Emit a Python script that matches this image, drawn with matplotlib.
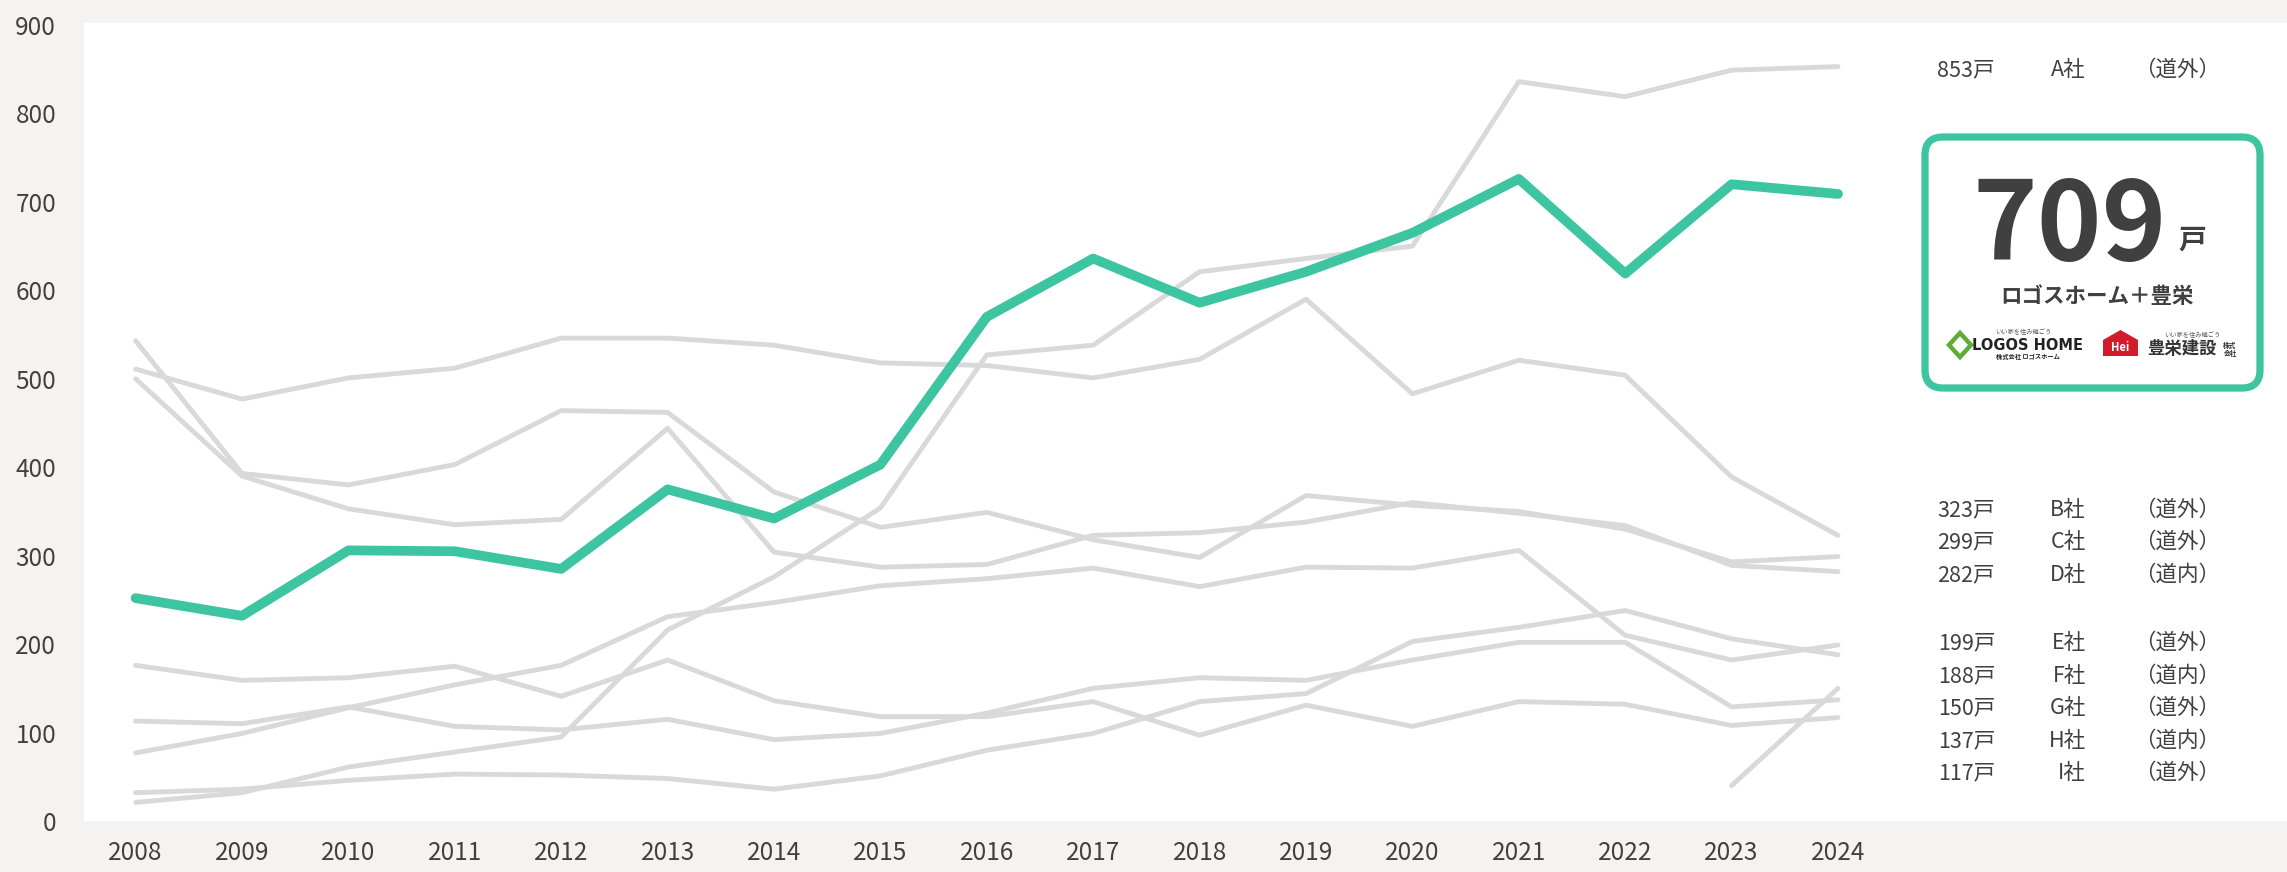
import numpy as np
import matplotlib.pyplot as plt
from matplotlib.patches import FancyBboxPatch, Polygon

# 日本語フォント
plt.rcParams['font.family'] = ['Noto Sans CJK JP', 'DejaVu Sans']

W, H = 2287, 872          # 出力サイズ (px)
BG = '#f4f3f1'
GREEN = '#3dc4a1'
GRAY = '#d9d9d9'
TEXT = '#404040'

# ---- データ ----
years = list(range(2008, 2025))

main_name = "ロゴスホーム＋豊栄"
main_values = [252, 232, 306, 305, 285, 375, 342, 403, 570, 636, 586, 621, 665, 726, 619, 720, 709]

companies = ["A社", "B社", "C社", "D社", "E社", "F社", "G社", "H社", "I社"]
regions = ["道外", "道外", "道外", "道内", "道外", "道内", "道外", "道内", "道外"]

a_values = [21, 32, 61, 78, 95, 216, 276, 354, 527, 538, 621, 636, 650, 836, 819, 849, 853]
b_values = [511, 477, 501, 512, 546, 546, 538, 518, 515, 501, 522, 590, 483, 521, 504, 389, 323]
c_values = [543, 393, 380, 403, 464, 462, 372, 332, 349, 318, 298, 368, 357, 350, 330, 293, 299]
d_values = [500, 390, 353, 335, 341, 444, 304, 287, 290, 323, 326, 338, 360, 348, 334, 289, 282]
e_values = [77, 99, 128, 154, 176, 231, 247, 266, 274, 286, 265, 287, 286, 306, 210, 182, 199]
f_values = [32, 36, 46, 53, 52, 48, 36, 51, 80, 99, 135, 144, 203, 219, 238, 206, 188]
g_values = [np.nan, np.nan, np.nan, np.nan, np.nan, np.nan, np.nan, np.nan, np.nan,
            np.nan, np.nan, np.nan, np.nan, np.nan, np.nan, 40, 150]
h_values = [113, 110, 129, 107, 103, 115, 92, 99, 122, 150, 162, 159, 182, 202, 202, 129, 137]
i_values = [176, 159, 162, 175, 141, 182, 136, 118, 118, 135, 97, 131, 107, 135, 132, 108, 117]

others = [a_values, b_values, c_values, d_values, e_values,
          f_values, g_values, h_values, i_values]

# 右側ラベルの行位置 (px, 上から)
label_rows = [70, 510, 542, 575, 643, 676, 708, 741, 773]


def fx(px):
    return px / W


def fy(py):
    return 1 - py / H


fig = plt.figure(figsize=(W / 100, H / 100), dpi=100, facecolor=BG)

# 白いパネル = プロット領域
ax = fig.add_axes([fx(84), fy(821), fx(W) - fx(84), fy(23) - fy(821)])
ax.set_facecolor('white')

for vals in others:
    ax.plot(years, vals, color=GRAY, lw=3.5, solid_capstyle='round',
            solid_joinstyle='round', zorder=2)
ax.plot(years, main_values, color=GREEN, lw=7, solid_capstyle='round',
        solid_joinstyle='round', zorder=3)

ax.set_xlim(2007.515, 2028.22)
ax.set_ylim(0, 902.3)
ax.set_yticks(range(0, 901, 100))
ax.set_xticks(years)
ax.tick_params(axis='both', length=0, labelsize=17.5, labelcolor=TEXT)
ax.tick_params(axis='y', pad=20)
ax.tick_params(axis='x', pad=14)
for s in ax.spines.values():
    s.set_visible(False)

# ---- 右側の注釈 (px 座標のオーバーレイ) ----
ov = fig.add_axes([0, 0, 1, 1], facecolor='none')
ov.set_xlim(0, W)
ov.set_ylim(H, 0)
ov.axis('off')

for vals, comp, reg, row in zip(others, companies, regions, label_rows):
    ov.text(1995, row, f"{int(vals[-1])}戸", ha='right', va='center',
            fontsize=15.5, color=TEXT)
    ov.text(2086, row, comp, ha='right', va='center', fontsize=15.5, color=TEXT)
    ov.text(2177, row, f"（{reg}）", ha='center', va='center', fontsize=15.5, color=TEXT)

# 強調ボックス
box = FancyBboxPatch((1925, 137), 335, 251, boxstyle="round,pad=0,rounding_size=18",
                     facecolor='white', edgecolor=GREEN, linewidth=5.2, zorder=5)
ov.add_patch(box)
ov.text(2070, 260, str(main_values[-1]), ha='center', va='baseline',
        fontsize=79, fontweight='bold', color=TEXT, zorder=6)
ov.text(2192, 241, "戸", ha='center', va='center', fontsize=20,
        fontweight='bold', color=TEXT, zorder=6)
ov.text(2097, 296, main_name, ha='center', va='center', fontsize=15.5,
        fontweight='bold', color=TEXT, zorder=6)

# ロゴ (簡易)
ov.add_patch(Polygon([(1949, 345), (1960, 333), (1971, 345), (1960, 357)],
                     closed=True, facecolor='none', edgecolor='#5cae34',
                     linewidth=3.2, zorder=6))
ov.text(2028, 345, "LOGOS HOME", ha='center', va='center', fontsize=10.5,
        fontweight='bold', color='#222222', family='DejaVu Sans', zorder=6)
ov.text(2023, 332, "いい家を住み継ごう", ha='center', va='center', fontsize=4.5,
        color='#555555', zorder=6)
ov.text(2028, 356, "株式会社 ロゴスホーム", ha='center', va='center', fontsize=4.5,
        fontweight='bold', color='#222222', zorder=6)

ov.add_patch(Polygon([(2103, 356), (2103, 340), (2120.5, 330), (2138, 340), (2138, 356)],
                     closed=True, facecolor='#d31c2b', edgecolor='none', zorder=6))
ov.text(2120.5, 347, "Hei", ha='center', va='center', fontsize=8,
        fontweight='bold', color='white', zorder=7)
ov.text(2182, 349, "豊栄建設", ha='center', va='center', fontsize=12.5,
        fontweight='bold', color='#333333', zorder=6)
ov.text(2192, 335, "いい家を住み継ごう", ha='center', va='center', fontsize=4.5,
        color='#555555', zorder=6)
ov.text(2230, 345, "株式", ha='center', va='center', fontsize=4.8,
        fontweight='bold', color='#333333', zorder=6)
ov.text(2230, 353, "会社", ha='center', va='center', fontsize=4.8,
        fontweight='bold', color='#333333', zorder=6)

fig.savefig("out.png", dpi=100, facecolor=BG)
